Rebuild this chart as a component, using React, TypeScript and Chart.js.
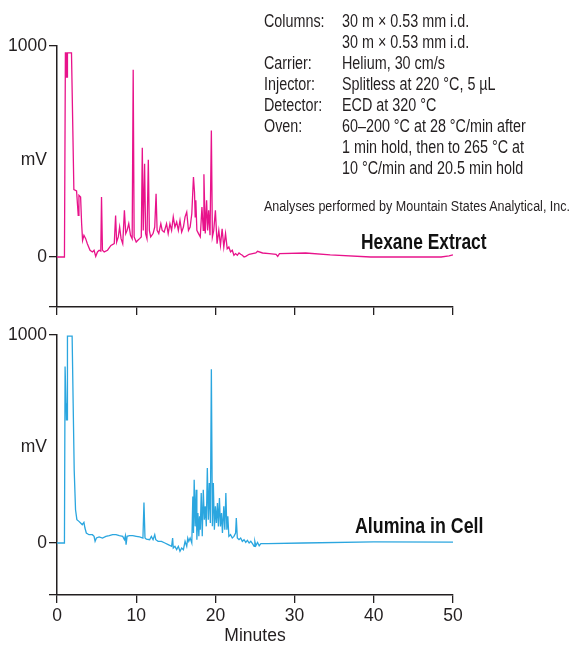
import React, { useEffect, useRef } from 'react';
import { Chart, registerables } from 'chart.js';

Chart.register(...registerables);

// ---- Data ----
const hexTime = [0, 0.94, 1.06, 1.15, 1.19, 1.28, 1.32, 1.83, 2.0, 2.13, 2.47, 2.68, 2.77, 2.98, 3.11, 3.23, 3.4, 3.62, 3.83, 4.17, 4.47, 4.68, 4.89, 5.11, 5.32, 5.53, 5.62, 5.74, 5.96, 6.38, 6.81, 7.23, 7.4, 7.53, 7.74, 7.91, 8.09, 8.3, 8.51, 8.68, 8.85, 9.06, 9.28, 9.49, 9.62, 9.74, 10.0, 10.21, 10.43, 10.64, 10.77, 10.89, 11.06, 11.19, 11.36, 11.53, 11.66, 11.83, 12.13, 12.34, 12.51, 12.64, 12.85, 13.11, 13.28, 13.53, 13.83, 14.04, 14.26, 14.47, 14.68, 14.89, 15.11, 15.32, 15.53, 15.74, 15.96, 16.17, 16.38, 16.6, 16.81, 17.02, 17.23, 17.36, 17.45, 17.53, 17.66, 17.87, 18.09, 18.3, 18.47, 18.55, 18.72, 18.89, 19.02, 19.15, 19.32, 19.49, 19.62, 19.79, 20.0, 20.21, 20.43, 20.64, 20.85, 21.06, 21.28, 21.49, 21.7, 21.91, 22.13, 22.34, 22.55, 22.77, 22.98, 23.19, 23.4, 23.62, 23.83, 24.26, 25.11, 25.32, 25.96, 26.81, 27.66, 27.87, 28.09, 31.4, 34.5, 39.6, 44.0, 48.5, 49.5, 50.0];
const hexMv = [0, 0, 967, 967, 853, 853, 967, 967, 600, 319, 313, 197, 292, 284, 158, 79, 103, 87, 63, 32, 24, 32, 3, 24, 32, 28, 284, 32, 24, 32, 55, 63, 197, 71, 95, 142, 87, 63, 221, 111, 126, 158, 103, 87, 888, 95, 71, 79, 87, 95, 518, 126, 442, 111, 87, 461, 126, 95, 111, 142, 300, 126, 111, 158, 126, 118, 158, 111, 158, 126, 190, 142, 166, 126, 174, 118, 142, 190, 213, 126, 142, 205, 379, 308, 190, 269, 126, 111, 95, 237, 126, 392, 111, 269, 126, 221, 103, 600, 95, 126, 221, 63, 126, 55, 134, 47, 111, 39, 47, 24, 32, 8, 16, 8, 19, 13, 8, 0, 3, 13, 19, 27, 19, 16, 13, 3, 16, 19, 10, 0, 0, 0, 5, 10];

const aluTime = [0, 0.94, 1.02, 1.11, 1.19, 1.23, 1.28, 1.32, 1.91, 2.04, 2.17, 2.34, 2.51, 2.77, 2.98, 3.19, 3.4, 3.53, 3.7, 4.04, 4.47, 4.68, 4.81, 4.98, 5.32, 5.74, 6.17, 6.6, 7.02, 7.45, 7.87, 8.3, 8.51, 8.64, 8.72, 8.85, 9.15, 9.57, 10.0, 10.43, 10.85, 10.98, 11.11, 11.28, 11.7, 11.91, 12.13, 12.34, 12.47, 12.77, 13.19, 13.62, 14.04, 14.47, 14.6, 14.68, 14.89, 15.11, 15.32, 15.53, 15.74, 15.96, 16.17, 16.38, 16.51, 16.64, 16.81, 17.02, 17.15, 17.23, 17.32, 17.45, 17.57, 17.66, 17.79, 17.91, 18.0, 18.09, 18.21, 18.34, 18.47, 18.6, 18.72, 18.85, 18.98, 19.11, 19.23, 19.36, 19.49, 19.62, 19.74, 19.87, 20.0, 20.13, 20.26, 20.38, 20.51, 20.64, 20.77, 20.89, 21.06, 21.19, 21.32, 21.45, 21.57, 21.7, 21.91, 22.13, 22.34, 22.55, 22.64, 22.77, 22.98, 23.19, 23.4, 23.62, 23.83, 24.04, 24.26, 24.47, 24.68, 24.89, 24.98, 25.11, 25.32, 25.53, 25.74, 26.6, 31.06, 40.0, 50.0];
const aluMv = [0, 0, 848, 848, 592, 672, 592, 995, 995, 672, 352, 160, 112, 104, 96, 88, 99, 72, 48, 40, 40, 32, 8, 24, 29, 24, 32, 35, 40, 40, 35, 32, 16, 35, -8, 32, 35, 35, 32, 29, 24, 195, 24, 19, 16, 32, 16, 40, 16, 8, 8, 0, -8, -16, 24, -24, -16, -32, -16, -40, -24, -32, 8, -16, 24, 8, 24, 0, 224, 48, 304, 80, 256, 16, 144, 32, 128, 64, 240, 32, 256, 112, 176, 80, 360, 112, 288, 96, 835, 80, 288, 64, 176, 96, 192, 80, 216, 80, 144, 48, 176, 64, 240, 64, 128, 32, 40, 24, 32, 48, 120, 24, 16, 24, 8, 16, 3, 13, 0, 8, -3, -16, 8, -13, 3, -13, -3, -3, 0, 5, 4];

const xTicks = [0, 10, 20, 30, 40, 50];
const yTickValues = [0, 460, 1000];
const yTickLabels = ['0', 'mV', '1000'];
const xTitle = 'Minutes';
const hexLabel = 'Hexane Extract';
const aluLabel = 'Alumina in Cell';
const condKeys = ['Columns:', '', 'Carrier:', 'Injector:', 'Detector:', 'Oven:', '', ''];
const condValues = [
  '30 m × 0.53 mm i.d.',
  '30 m × 0.53 mm i.d.',
  'Helium, 30 cm/s',
  'Splitless at 220 °C, 5 µL',
  'ECD at 320 °C',
  '60–200 °C at 28 °C/min after',
  '1 min hold, then to 265 °C at',
  '10 °C/min and 20.5 min hold',
];
const credit = 'Analyses performed by Mountain States Analytical, Inc.';

const CANVAS_FONT = "'Liberation Sans', Arial, sans-serif";
const HTML_FONT = "'Liberation Sans', Arial, sans-serif";
const AXIS = '#231f20';
const HEX_COLOR = '#e8138b';
const ALU_COLOR = '#2ba6df';

type PanelProps = {
  time: number[];
  mv: number[];
  color: string;
  yMin: number;
  top: number;
  height: number;
  padTop: number;
  xAxisHeight: number;
  showX: boolean;
};

function Panel({ time, mv, color, yMin, top, height, padTop, xAxisHeight, showX }: PanelProps) {
  const ref = useRef<HTMLCanvasElement | null>(null);
  useEffect(() => {
    if (!ref.current) return;
    const chart = new Chart(ref.current, {
      type: 'line',
      data: {
        datasets: [
          {
            data: time.map((t, i) => ({ x: t, y: mv[i] })),
            borderColor: color,
            borderWidth: 1.3,
            pointRadius: 0,
            tension: 0,
            fill: false,
          },
        ],
      },
      options: {
        animation: false,
        responsive: false,
        maintainAspectRatio: false,
        events: [],
        plugins: { legend: { display: false }, tooltip: { enabled: false } },
        layout: { padding: { top: padTop, right: 116, left: 0, bottom: 0 } },
        scales: {
          x: {
            type: 'linear',
            min: 0,
            max: 50,
            afterBuildTicks: (s: any) => {
              s.ticks = xTicks.map((v) => ({ value: v }));
            },
            afterFit: (s: any) => {
              s.height = xAxisHeight;
            },
            grid: { drawOnChartArea: false, drawTicks: true, tickLength: 8, color: AXIS, lineWidth: 1.3 },
            border: { display: true, color: AXIS, width: 1.5 },
            ticks: {
              display: showX,
              autoSkip: false,
              maxRotation: 0,
              padding: 3,
              color: AXIS,
              font: { family: CANVAS_FONT, size: 17.5 },
            },
            title: {
              display: showX,
              text: xTitle,
              color: AXIS,
              font: { family: CANVAS_FONT, size: 17.5, lineHeight: 1 },
              padding: { top: 0, bottom: 1 },
            },
          },
          y: {
            type: 'linear',
            min: yMin,
            max: 1000,
            afterBuildTicks: (s: any) => {
              s.ticks = [yMin, ...yTickValues].map((v) => ({ value: v }));
            },
            afterFit: (s: any) => {
              s.width = 57;
            },
            grid: {
              drawOnChartArea: false,
              drawTicks: true,
              tickLength: 8,
              lineWidth: 1.3,
              color: (ctx: any) => (ctx.tick && ctx.tick.value === 460 ? 'rgba(0,0,0,0)' : AXIS),
            },
            border: { display: true, color: AXIS, width: 1.5 },
            ticks: {
              autoSkip: false,
              padding: 2,
              color: AXIS,
              font: { family: CANVAS_FONT, size: 17.5 },
              callback: (v: any) => {
                const i = yTickValues.indexOf(Number(v));
                return i >= 0 ? yTickLabels[i] : '';
              },
            },
          },
        },
      },
    });
    return () => chart.destroy();
  }, []);
  return (
    <div style={{ position: 'absolute', left: 0, top, width: 569, height }}>
      <canvas ref={ref} width={569} height={height} style={{ display: 'block' }} />
    </div>
  );
}

const textBase: React.CSSProperties = {
  position: 'absolute',
  fontFamily: HTML_FONT,
  color: AXIS,
  whiteSpace: 'nowrap',
  margin: 0,
  transformOrigin: '0 50%',
  transform: 'scaleX(0.82)',
};

export default function App() {
  const lineGap = 21;
  const firstLine = 20.5;
  const fs = 17.5;
  const lh = 20;
  return (
    <div style={{ position: 'absolute', left: 0, top: 0, width: 569, height: 646, background: '#fff', overflow: 'hidden' }}>
      <Panel time={hexTime} mv={hexMv} color={HEX_COLOR} yMin={-237} top={0} height={330} padTop={46} xAxisHeight={23} showX={false} />
      <Panel time={aluTime} mv={aluMv} color={ALU_COLOR} yMin={-250} top={310} height={336} padTop={25} xAxisHeight={51} showX={true} />
      {condValues.map((val, i) => (
        <React.Fragment key={i}>
          {condKeys[i] ? (
            <div style={{ ...textBase, left: 264, top: firstLine + i * lineGap - lh / 2, fontSize: fs, lineHeight: lh + 'px' }}>
              {condKeys[i]}
            </div>
          ) : null}
          <div style={{ ...textBase, left: 342, top: firstLine + i * lineGap - lh / 2, fontSize: fs, lineHeight: lh + 'px' }}>
            {val}
          </div>
        </React.Fragment>
      ))}
      <div style={{ ...textBase, left: 264, top: 206 - lh / 2, fontSize: 15.3, lineHeight: lh + 'px' }}>{credit}</div>
      <div style={{ ...textBase, left: 361, top: 242 - 12, fontSize: 21.2, lineHeight: '24px', fontWeight: 'bold', color: '#111' }}>
        {hexLabel}
      </div>
      <div style={{ ...textBase, left: 355, top: 526 - 12, fontSize: 21.7, lineHeight: '24px', fontWeight: 'bold', color: '#111' }}>
        {aluLabel}
      </div>
    </div>
  );
}
